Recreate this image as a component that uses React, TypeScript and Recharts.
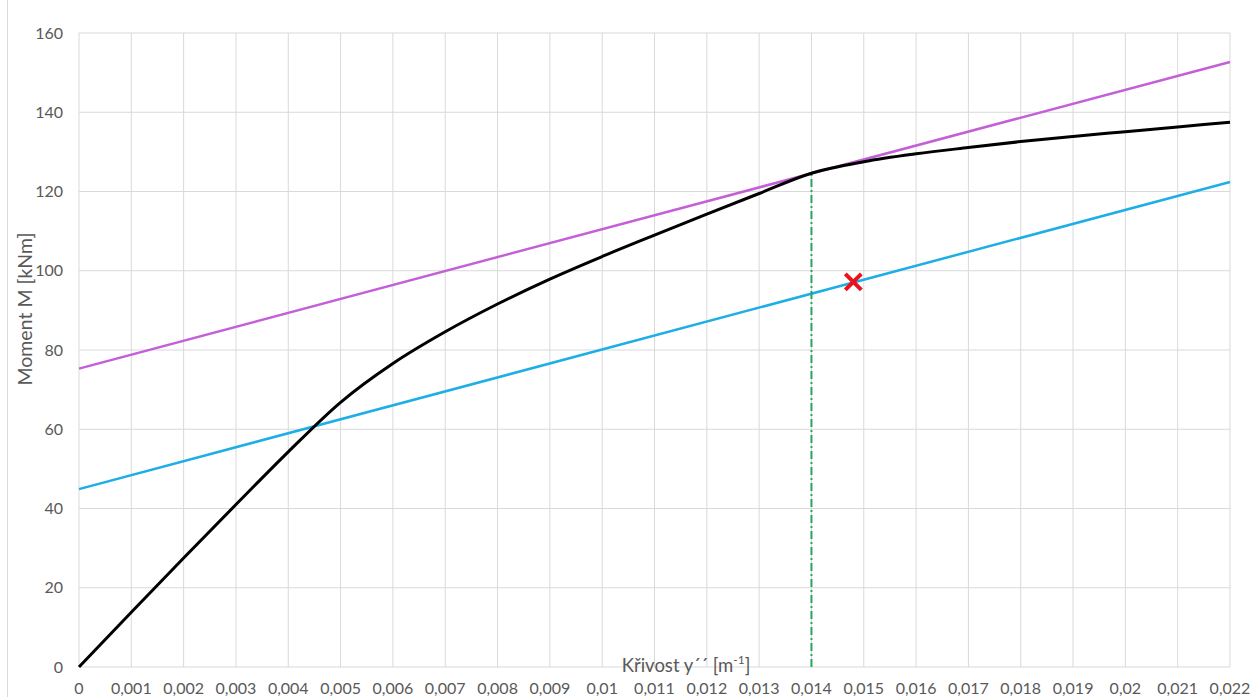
import React from "react";
import {
  ComposedChart,
  Line,
  Scatter,
  XAxis,
  YAxis,
  CartesianGrid,
} from "recharts";

const X_TICKS = [
  0, 0.001, 0.002, 0.003, 0.004, 0.005, 0.006, 0.007, 0.008, 0.009, 0.01,
  0.011, 0.012, 0.013, 0.014, 0.015, 0.016, 0.017, 0.018, 0.019, 0.02, 0.021,
  0.022,
];
const Y_TICKS = [0, 20, 40, 60, 80, 100, 120, 140, 160];

// moment-curvature curve
const CURVE_X = X_TICKS;
const CURVE_M = [
  0, 13.8, 27.5, 41.0, 54.3, 66.8, 76.6, 84.6, 91.6, 97.9, 103.6, 109.0, 114.3,
  119.5, 124.6, 127.5, 129.5, 131.1, 132.6, 133.9, 135.1, 136.3, 137.5,
];

const TANGENT = [
  { x: 0, y: 75.3 },
  { x: 0.022, y: 152.7 },
];
const PARALLEL = [
  { x: 0, y: 44.9 },
  { x: 0.022, y: 122.4 },
];
const DROP_LINE = [
  { x: 0.014, y: 0 },
  { x: 0.014, y: 124.6 },
];
const POINT = [{ x: 0.0148, y: 97.2 }];

const curve = CURVE_X.map((x, i) => ({ x, y: CURVE_M[i] }));

const fmt = (v: number) => String(v).replace(".", ",");

const Cross = (props: any) => {
  const { cx, cy } = props;
  const s = 8;
  return (
    <g stroke="#e8141c" strokeWidth={4} strokeLinecap="butt">
      <line x1={cx - s} y1={cy - s} x2={cx + s} y2={cy + s} />
      <line x1={cx - s} y1={cy + s} x2={cx + s} y2={cy - s} />
    </g>
  );
};

const tickStyle = { fill: "#595959", fontSize: 16 };

export default function App() {
  return (
    <div
      style={{
        position: "absolute",
        left: 0,
        top: 0,
        width: 1253,
        height: 697,
        background: "#fff",
        fontFamily: "Lato, 'Open Sans', sans-serif",
        overflow: "hidden",
      }}
    >
      <div
        style={{
          position: "absolute",
          left: 7,
          top: 0,
          width: 0,
          height: 697,
          borderLeft: "1px solid #d9d9d9",
        }}
      />
      <ComposedChart
        width={1253}
        height={697}
        margin={{ top: 33, right: 23, bottom: 0, left: 0 }}
      >
        <CartesianGrid stroke="#d9d9d9" strokeWidth={1} />
        <XAxis
          type="number"
          dataKey="x"
          domain={[0, 0.022]}
          ticks={X_TICKS}
          tickFormatter={fmt}
          interval={0}
          axisLine={false}
          tickLine={false}
          tickSize={0}
          tickMargin={16}
          height={30}
          tick={tickStyle}
        />
        <YAxis
          type="number"
          domain={[0, 160]}
          ticks={Y_TICKS}
          axisLine={false}
          tickLine={false}
          tickSize={0}
          tickMargin={16}
          width={79}
          tick={tickStyle}
        />
        <Line
          data={TANGENT}
          dataKey="y"
          stroke="#c45fd8"
          strokeWidth={2.5}
          dot={false}
          isAnimationActive={false}
        />
        <Line
          data={PARALLEL}
          dataKey="y"
          stroke="#1eaee6"
          strokeWidth={2.5}
          dot={false}
          isAnimationActive={false}
        />
        <Line
          data={DROP_LINE}
          dataKey="y"
          stroke="#22a85a"
          strokeWidth={2}
          strokeDasharray="8 3 2 3"
          dot={false}
          isAnimationActive={false}
        />
        <Line
          data={curve}
          dataKey="y"
          type="monotone"
          stroke="#000"
          strokeWidth={3}
          dot={false}
          isAnimationActive={false}
        />
        <Scatter
          data={POINT}
          dataKey="y"
          shape={<Cross />}
          isAnimationActive={false}
        />
      </ComposedChart>
      <div
        style={{
          position: "absolute",
          left: 24,
          top: 309,
          transform: "translate(-50%, -50%) rotate(-90deg)",
          whiteSpace: "nowrap",
          color: "#595959",
          fontSize: 19.5,
        }}
      >
        Moment M [kNm]
      </div>
      <div
        style={{
          position: "absolute",
          left: 686,
          top: 664,
          transform: "translate(-50%, -50%)",
          whiteSpace: "nowrap",
          color: "#595959",
          fontSize: 18.5,
        }}
      >
        Křivost y´´ [m
        <span style={{ fontSize: 12, verticalAlign: "super" }}>-1</span>]
      </div>
    </div>
  );
}
